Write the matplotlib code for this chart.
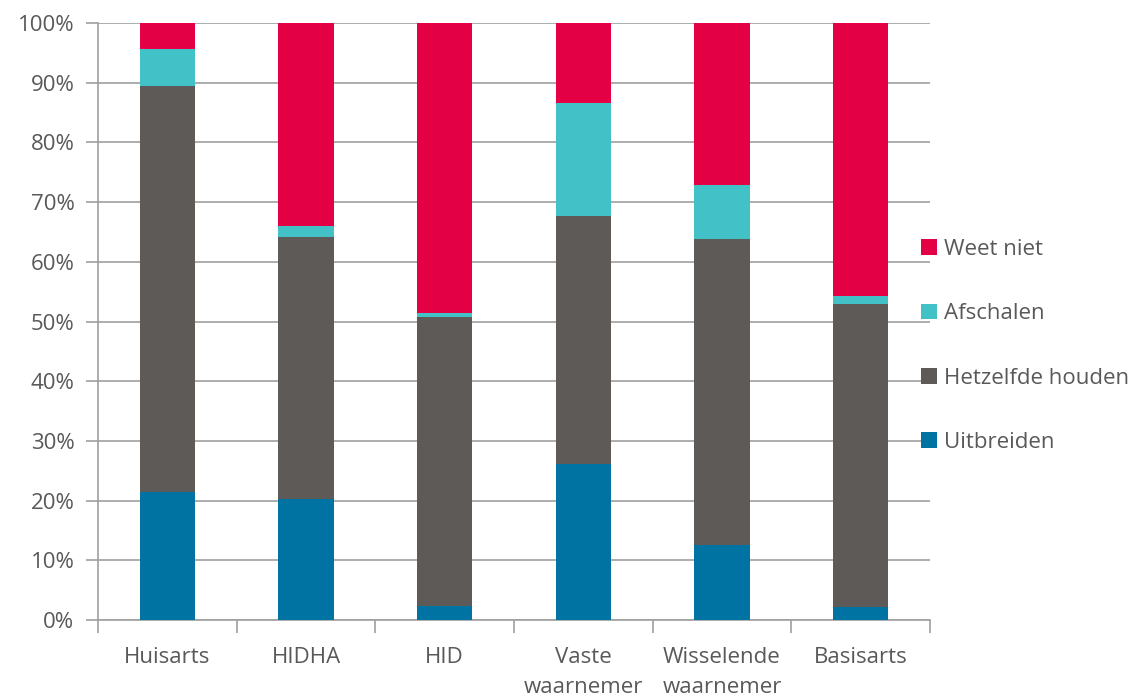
import matplotlib
matplotlib.use("Agg")
import matplotlib.pyplot as plt
import numpy as np
from matplotlib.ticker import FixedLocator, PercentFormatter

categories = ["Huisarts", "HIDHA", "HID", "Vaste\nwaarnemer", "Wisselende\nwaarnemer", "Basisarts"]
uitbreiden = [21.5, 20.2, 2.4, 26.1, 12.6, 2.2]
hetzelfde_top = [89.4, 64.1, 50.7, 67.6, 63.9, 52.9]
afschalen_top = [95.7, 66.0, 51.4, 86.6, 72.9, 54.2]

hetzelfde = [h - u for h, u in zip(hetzelfde_top, uitbreiden)]
afschalen = [a - h for a, h in zip(afschalen_top, hetzelfde_top)]
weet_niet = [100 - a for a in afschalen_top]

series_names = ["Uitbreiden", "Hetzelfde houden", "Afschalen", "Weet niet"]
colors = ["#0073A2", "#5E5A57", "#42C1C7", "#E40045"]

plt.rcParams['font.family'] = ['Open Sans', 'DejaVu Sans']
text_color = "#595959"
grid_color = "#A0A0A0"
fs = 16

fig = plt.figure(figsize=(11.38, 6.99), dpi=100)
ax = fig.add_axes([98/1138, 1 - 620/699, (930-98)/1138, (620-23)/699])

x = np.arange(len(categories))
bottom = np.zeros(len(categories))
handles = []
for name, vals, col in zip(series_names, [uitbreiden, hetzelfde, afschalen, weet_niet], colors):
    b = ax.bar(x, vals, width=0.40, bottom=bottom, color=col, label=name, zorder=3)
    handles.append(b)
    bottom += np.array(vals)

ax.set_xlim(-0.5, len(categories) - 0.5)
ax.set_ylim(0, 100)
ax.yaxis.set_major_locator(FixedLocator(np.arange(0, 101, 10)))
ax.yaxis.set_major_formatter(PercentFormatter(decimals=0))
ax.grid(axis='y', color=grid_color, linewidth=1.2, zorder=0)

for s in ['top', 'right']:
    ax.spines[s].set_visible(False)
for s in ['left', 'bottom']:
    ax.spines[s].set_color(grid_color)
    ax.spines[s].set_linewidth(1.2)

ax.set_xticks(x)
ax.set_xticklabels(categories)
ax.tick_params(axis='x', length=0, pad=19.5, labelsize=fs, labelcolor=text_color)
ax.set_xticks(np.arange(-0.5, len(categories), 1.0), minor=True)
ax.tick_params(axis='x', which='minor', length=9, width=1.2, color=grid_color)
ax.tick_params(axis='y', length=9, width=1.2, color=grid_color, labelsize=fs, labelcolor=text_color, pad=8)
for lbl in ax.get_xticklabels():
    lbl.set_linespacing(1.55)
    lbl.set_verticalalignment('top')

leg = fig.legend(handles[::-1], series_names[::-1], loc='upper left',
                 bbox_to_anchor=(901/1138, 1 - 219/699), frameon=False,
                 fontsize=fs, labelspacing=1.95, handlelength=0.7, handleheight=0.7,
                 handletextpad=0.35, labelcolor=text_color)

fig.savefig("out.png", dpi=100)
